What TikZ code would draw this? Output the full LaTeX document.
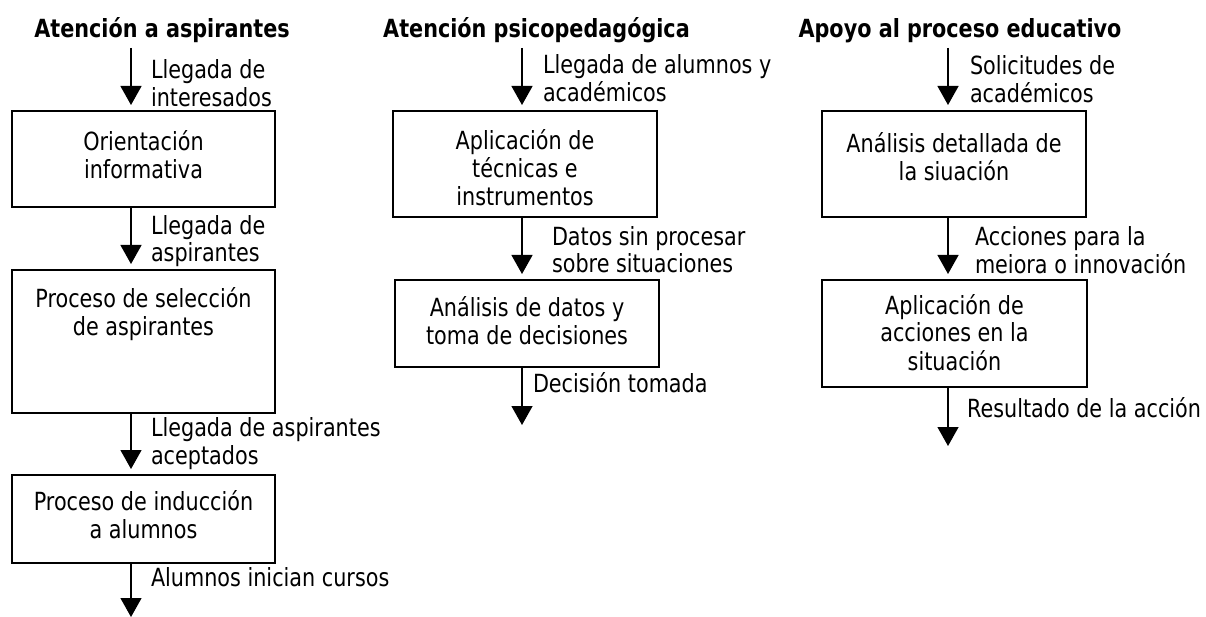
\documentclass[tikz,border=0pt]{standalone}
\usepackage{fontspec}
\setmainfont{DejaVu Sans}[FakeStretch=0.83]
\usetikzlibrary{arrows.meta}
\newcommand{\tstrut}{\rule{0pt}{24pt}}
\newcommand{\fsz}{\fontsize{25}{28}\selectfont\lineskiplimit=-20pt\relax}
\begin{document}
\begin{tikzpicture}[x=1pt,y=-1pt,
  every node/.style={font=\fsz, inner sep=0pt, outer sep=0pt},
  lbl/.style={anchor=north west, align=left},
  txt/.style={anchor=north, align=center},
  ttl/.style={anchor=base, font=\fsz\bfseries},
  box/.style={draw, line width=1.6pt, anchor=north west},
  arr/.style={line width=1.3pt, -{Triangle[width=21pt,length=19pt]}, shorten >=6pt}]
\useasboundingbox (0,0) rectangle (1206,617);

% titles
\node[ttl] (t1) at (162,38) {Atención a aspirantes};
\node[ttl] (t2) at (536.5,38) {Atención psicopedagógica};
\node[ttl] (t3) at (960,38) {Apoyo al proceso educativo};

% column 1
\coordinate (s1) at (131,48);
\coordinate (z1) at (131,623);
\node[box, minimum width=263pt, minimum height=96pt] (a1) at (12,111) {};
\node[box, minimum width=263pt, minimum height=143pt] (a2) at (12,270) {};
\node[box, minimum width=263pt, minimum height=88pt] (a3) at (12,475) {};
\node[txt] (a1t) at (143.5,127) {\tstrut Orientación\\informativa};
\node[txt] (a2t) at (143.5,283) {\tstrut Proceso de selección\\de aspirantes};
\node[txt] (a3t) at (143.5,486) {\tstrut Proceso de inducción\\a alumnos};
\node[lbl] (l11) at (151,55) {\tstrut Llegada de\\interesados};
\node[lbl] (l12) at (151,210) {\tstrut Llegada de\\aspirantes};
\node[lbl] (l13) at (151,412) {\tstrut Llegada de aspirantes\\aceptados};
\node[lbl] (l14) at (151,562) {\tstrut Alumnos inician cursos};
\draw[arr] (s1) -- (s1 |- a1.north);
\draw[arr] (a1.south -| s1) -- (a2.north -| s1);
\draw[arr] (a2.south -| s1) -- (a3.north -| s1);
\draw[arr] (a3.south -| s1) -- (z1);

% column 2
\coordinate (s2) at (522,48);
\coordinate (z2) at (522,431);
\node[box, minimum width=264pt, minimum height=106pt] (p1) at (393,111) {};
\node[box, minimum width=264pt, minimum height=87pt] (p2) at (395,280) {};
\node[txt] (p1t) at (525,126) {\tstrut Aplicación de\\técnicas e\\instrumentos};
\node[txt] (p2t) at (527,292) {\tstrut Análisis de datos y\\toma de decisiones};
\node[lbl] (l21) at (543,50) {\tstrut Llegada de alumnos y\\académicos};
\node[lbl] (l22) at (552,221) {\tstrut Datos sin procesar\\sobre situaciones};
\node[lbl] (l23) at (533,368) {\tstrut Decisión tomada};
\draw[arr] (s2) -- (s2 |- p1.north);
\draw[arr] (p1.south -| s2) -- (p2.north -| s2);
\draw[arr] (p2.south -| s2) -- (z2);

% column 3
\coordinate (s3) at (948,48);
\coordinate (z3) at (948,452);
\node[box, minimum width=264pt, minimum height=106pt] (e1) at (822,111) {};
\node[box, minimum width=265pt, minimum height=107pt] (e2) at (822,280) {};
\node[txt] (e1t) at (954,129) {\tstrut Análisis detallada de\\la siuación};
\node[txt] (e2t) at (954.5,290) {\tstrut Aplicación de\\acciones en la\\situación};
\node[lbl] (l31) at (970,51) {\tstrut Solicitudes de\\académicos};
\node[lbl] (l32) at (975,222) {\tstrut Acciones para la\\meiora o innovación};
\node[lbl] (l33) at (967,393) {\tstrut Resultado de la acción};
\draw[arr] (s3) -- (s3 |- e1.north);
\draw[arr] (e1.south -| s3) -- (e2.north -| s3);
\draw[arr] (e2.south -| s3) -- (z3);
\end{tikzpicture}
\end{document}
